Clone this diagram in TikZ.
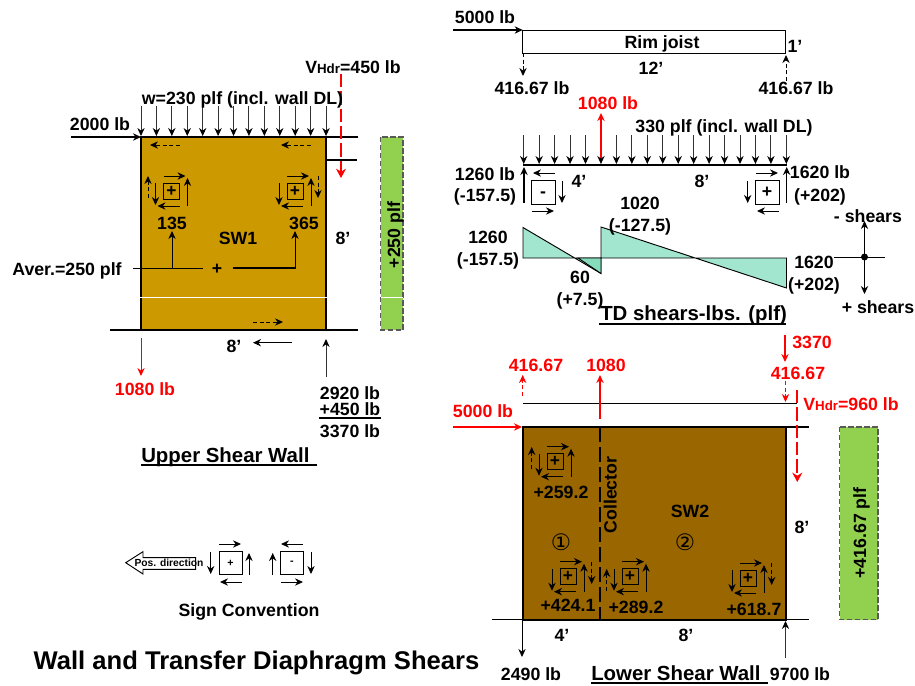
\documentclass[tikz,border=0pt]{standalone}
\usepackage{fontspec}
\setmainfont{Liberation Sans}
\newfontfamily\circfont{DejaVu Sans}
\usetikzlibrary{arrows.meta}
\definecolor{wallupper}{HTML}{CC9900}
\definecolor{walllower}{HTML}{996600}
\definecolor{barfill}{HTML}{92D050}
\definecolor{shearfill}{HTML}{A3E6CF}
\definecolor{sheardip}{HTML}{85DDBB}
\tikzset{
	lbl/.style={font=\bfseries\fontsize{13.3}{14}\selectfont, anchor=base, inner sep=0pt},
	redlbl/.style={lbl, text=red},
	titlelbl/.style={lbl, font=\bfseries\fontsize{15.3}{17}\selectfont},
	arr/.style={-{Stealth[length=6pt,width=5.5pt]}, line width=0.75pt},
	dasharr/.style={arr, dash pattern=on 3pt off 2pt},
	redarr/.style={arr, color=red, line width=1.5pt},
	reddash/.style={dasharr, color=red},
	redlong/.style={-{Stealth[length=7pt,width=7.5pt]}, color=red, line width=1.5pt, dash pattern=on 10pt off 3pt},
	load/.style={-{Stealth[length=6pt,width=5.5pt,color=black]}, color=black!80, line width=0.7pt},
	wallline/.style={line width=1.5pt},
	barbox/.style={fill=barfill, draw=black!65, line width=0.9pt, dash pattern=on 4pt off 2pt},
}
% shear element drawn around its centre
\def\shearbox(#1,#2){
	\begin{scope}[shift={(#1,#2)}]
		\draw[line width=0.7pt] (-8,-8) rectangle (8,8);
		\node[font=\bfseries\fontsize{13}{14}\selectfont, inner sep=0pt] at (0,0) {+};
		\draw[arr] (-8,-15) -- (14,-15);
		\draw[arr] (16,15) -- (16,-13);
		\draw[arr] (-16,-8) -- (-16,14);
		\draw[arr] (8,15) -- (-14,15);
	\end{scope}
}

\begin{document}
\begin{tikzpicture}[x=0.75pt, y=-0.75pt]
	\useasboundingbox (0,0) rectangle (915,686);

	%%%%% UPPER WALL %%%%%

	\draw[fill=wallupper, line width=1.5pt] (141,137) rectangle (326,329.5);
	\draw[white, line width=0.6pt] (140,297.5) -- (327,297.5);
	\draw[barbox] (380.5,137) rectangle (403,330);
	\draw[white, line width=0.6pt] (381,297.5) -- (403,297.5);
	\node[lbl, rotate=90] (sideone) at (400,235) {+250 plf};

	\draw[wallline] (141,137) -- (358,137);
	\draw[wallline] (326,160) -- (357,160);
	\draw[wallline] (110,329.5) -- (358,329.5);
	\draw[arr, line width=1.5pt] (71,137) -- (141,137);

	\foreach \i in {0,...,12} {
		\draw[load] ({141+\i*15.42},106) -- ({141+\i*15.42},136);
	}
	\draw[redlong] (341,74) -- (341,178);

	\draw[dasharr] (180,145) -- (150,145);
	\draw[dasharr] (311,145) -- (281,145);
	\draw[dasharr] (253,322) -- (283,322);

	\shearbox(171.5,191)
	\shearbox(295,191)
	\draw[dasharr] (148,198) -- (148,176);
	\draw[dasharr] (318,176) -- (318,198);

	\draw[line width=0.7pt] (133,268) -- (203,268);
	\draw[arr] (172,268) -- (172,231);
	\draw[arr] (233,268) -- (295,268) -- (295,231);
	\draw[line width=1.3pt] (233,268) -- (295,268);

	\draw[arr, color=red] (141,338) -- (141,376);
	\draw[arr] (292,342.7) -- (253,342.7);
	\draw[load] (326,377) -- (326,339);
	\draw[wallline] (319,418) -- (381,418);
	\draw[line width=1.8pt] (141,465) -- (317,465);

	\node[lbl] (vhdrone) at (353,73) {V{\fontsize{10}{11}\selectfont Hdr}=450 lb};
	\node[lbl] (wload) at (242.5,104) {w=230 plf (incl. wall DL)};
	\node[lbl] (topforce) at (100,130) {2000 lb};
	\node[lbl] (vleft) at (172,229) {135};
	\node[lbl] (vright) at (304,229) {365};
	\node[lbl] (swone) at (238,244) {SW1};
	\node[lbl] (heightone) at (343,244) {8’};
	\node[lbl] (aver) at (67,275) {Aver.=250 plf};
	\node[lbl] (centre) at (217,274) {+};
	\node[lbl] (widthone) at (234,352) {8’};
	\node[redlbl] (upliftone) at (145,395) {1080 lb};
	\node[lbl] (reactone) at (350,399) {2920 lb};
	\node[lbl] (reacttwo) at (350,415) {+450 lb};
	\node[lbl] (reactsum) at (350,437) {3370 lb};
	\node[titlelbl, anchor=base west] (uppertitle) at (141,462) {Upper Shear Wall};

	%%%%% SIGNS %%%%%

	\draw[line width=0.7pt, fill=white] (125.7,562.7) -- (143,551.7) -- (143,557.7) -- (195.7,557.7) -- (195.7,569.3) -- (143,569.3) -- (143,574) -- cycle;
	\node[font=\bfseries\fontsize{7.7}{9}\selectfont, anchor=base, inner sep=0pt] (posdir) at (169,566) {Pos. direction};

	\draw[line width=0.7pt] (219,551.7) rectangle (242,574.7);
	\node[font=\bfseries\fontsize{8}{9}\selectfont, inner sep=0pt] (signplus) at (230.5,563.2) {+};
	\draw[arr] (219,544) -- (241,544);
	\draw[arr] (242,582) -- (220,582);
	\draw[arr] (210.7,552) -- (210.7,574);
	\draw[arr] (249,575) -- (249,553);

	\draw[line width=0.7pt] (280,551.7) rectangle (303.7,574.7);
	\node[font=\bfseries\fontsize{8}{9}\selectfont, inner sep=0pt] (signminus) at (292,563.2) {-};
	\draw[arr] (303,544) -- (281,544);
	\draw[arr] (281,582) -- (303,582);
	\draw[arr] (272.7,575) -- (272.7,553);
	\draw[arr] (311,552) -- (311,574);

	\node[lbl] (signtitle) at (249,616) {Sign Convention};
	\node[lbl, font=\bfseries\fontsize{19.2}{21}\selectfont] (maintitle) at (256.5,669) {Wall and Transfer Diaphragm Shears};

	%%%%% RIM JOIST %%%%%

	\draw[line width=0.7pt] (522.7,30) rectangle (785.7,53);
	\draw[arr, line width=1.3pt] (453,30) -- (522.7,30);
	\draw[dasharr] (523,53) -- (523,76);
	\draw[dasharr] (786,81) -- (786,55);

	\foreach \i in {0,...,17} {
		\draw[load] ({523.7+\i*15.45},135) -- ({523.7+\i*15.45},164);
	}
	\draw[wallline] (523,165) -- (786.5,165);
	\draw[redarr] (601,158) -- (601,113);
	\draw[arr, line width=1pt] (524,203) -- (524,167);
	\draw[arr, line width=1pt] (786.7,203) -- (786.7,167);

	\draw[line width=0.7pt] (531,180) rectangle (555,204);
	\node[lbl] (boxminus) at (543,197) {-};
	\draw[arr] (555,173) -- (533,173);
	\draw[arr] (562,181) -- (562,203);
	\draw[arr] (532,211) -- (554,211);

	\draw[line width=0.7pt] (755,180) rectangle (779,204);
	\node[lbl] (boxplus) at (767,197) {+};
	\draw[arr] (756,173) -- (778,173);
	\draw[arr] (747.7,181) -- (747.7,203);
	\draw[arr] (779,211) -- (757,211);

	\node[lbl] (forcetop) at (485,23) {5000 lb};
	\node[lbl] (rim) at (662,48) {Rim joist};
	\node[lbl] (rimheight) at (795,52) {1’};
	\node[lbl] (rimspan) at (651,74) {12’};
	\node[lbl] (rimleft) at (532,94) {416.67 lb};
	\node[lbl] (rimright) at (796,94) {416.67 lb};
	\node[redlbl] (collload) at (608,109) {1080 lb};
	\node[lbl] (dist) at (724,132) {330 plf (incl. wall DL)};
	\node[lbl] (leftreact) at (485,180) {1260 lb};
	\node[lbl] (leftplf) at (485,201.7) {(-157.5)};
	\node[lbl] (spanone) at (579,187) {4’};
	\node[lbl] (spantwo) at (702,187) {8’};
	\node[lbl] (rightreact) at (820,178) {1620 lb};
	\node[lbl] (rightplf) at (820,201.7) {(+202)};

	%%%%% SHEAR DIAGRAM %%%%%

	\draw[fill=shearfill, line width=0.7pt] (523,258) -- (523,227.5) -- (601,273.5) -- (601,227) -- (786.5,288) -- (786.5,258) -- cycle;
	\draw[fill=sheardip, line width=0.7pt] (578,258) -- (601,273.5) -- (601,258) -- cycle;

	\draw[line width=1.3pt] (834,257.5) -- (885,257.5);
	\draw[arr] (864.5,257) -- (864.5,221);
	\draw[arr] (864.5,257) -- (864.5,294);
	\fill (864.5,257) circle (3.5);
	\draw[line width=1.8pt] (599,324) -- (786,324);

	\node[lbl] (midtop) at (640,209) {1020};
	\node[lbl] (midplf) at (640,231) {(-127.5)};
	\node[lbl] (diagleft) at (488,243) {1260};
	\node[lbl] (diagleftplf) at (488,265) {(-157.5)};
	\node[lbl] (diagdip) at (580,283) {60};
	\node[lbl] (diagdipplf) at (580,305) {(+7.5)};
	\node[lbl] (diagright) at (814,268) {1620};
	\node[lbl] (diagrightplf) at (814,290) {(+202)};
	\node[lbl] (minusshear) at (868,222) {- shears};
	\node[lbl] (plusshear) at (878,313) {+ shears};
	\node[titlelbl, anchor=base west] (tdtitle) at (600,320.7) {TD shears-lbs. (plf)};

	%%%%% LOWER WALL %%%%%

	\draw[fill=walllower, line width=1.5pt] (522.7,427) rectangle (785.5,619.5);
	\draw[barbox] (839.5,427) rectangle (878,619.5);
	\node[lbl, rotate=90] (sidetwo) at (866,533) {+416.67 plf};

	\draw[line width=0.8pt] (523,403.5) -- (797,403.5);
	\draw[line width=0.9pt] (523,427) -- (809,427);
	\draw[line width=0.9pt] (492,619.5) -- (809,619.5);
	\draw[line width=1.5pt, dash pattern=on 11pt off 4pt] (600,427) -- (600,619);

	\draw[redarr, line width=1.1pt] (785,335) -- (785,362);
	\draw[reddash] (522.7,396) -- (522.7,375);
	\draw[redarr] (600,419) -- (600,375);
	\draw[reddash] (785.5,381) -- (785.5,402);
	\draw[redarr] (453,427) -- (522,427);
	\draw[redlong] (797.3,390) -- (797.3,482);

	\shearbox(555,461.7)
	\shearbox(568,576.7)
	\shearbox(630,576.7)
	\shearbox(748,578)
	\draw[dasharr] (531.7,469) -- (531.7,447);
	\draw[dasharr] (591.7,562) -- (591.7,584);
	\draw[dasharr] (606.7,591) -- (606.7,569);
	\draw[dasharr] (771.7,563) -- (771.7,585);

	\draw[arr] (522,620) -- (522,657);
	\draw[load] (785.5,658) -- (785.5,621);
	\draw[line width=1.8pt] (591,683) -- (768,683);

	\node[redlbl] (redthree) at (812,348) {3370};
	\node[redlbl] (redleft) at (536,371) {416.67};
	\node[redlbl] (redmid) at (606,371) {1080};
	\node[redlbl] (redright) at (798,379) {416.67};
	\node[lbl, text=red] (vhdrtwo) at (851,410) {V{\fontsize{10}{11}\selectfont Hdr}=960 lb};
	\node[redlbl] (redforce) at (483,417.7) {5000 lb};
	\node[lbl, rotate=90] (collector) at (616.7,495) {Collector};
	\node[lbl] (swtwo) at (690,517) {SW2};
	\node[lbl] (heighttwo) at (802,533) {8’};
	\node[lbl] (valone) at (561,498) {+259.2};
	\node[lbl] (valtwo) at (568,611.7) {+424.1};
	\node[lbl] (valthree) at (636,613) {+289.2};
	\node[lbl] (valfour) at (754,615.7) {+618.7};
	\node[font=\circfont\fontsize{17}{18}\selectfont, inner sep=0pt] (pierone) at (561,542.7) {①};
	\node[font=\circfont\fontsize{17}{18}\selectfont, inner sep=0pt] (piertwo) at (685,542.7) {②};
	\node[lbl] (widthleft) at (562,641.7) {4’};
	\node[lbl] (widthright) at (686,641.7) {8’};
	\node[lbl] (holdleft) at (531,680) {2490 lb};
	\node[titlelbl, anchor=base west] (lowertitle) at (591,680) {Lower Shear Wall};
	\node[lbl] (holdright) at (800,680) {9700 lb};
\end{tikzpicture}
\end{document}
